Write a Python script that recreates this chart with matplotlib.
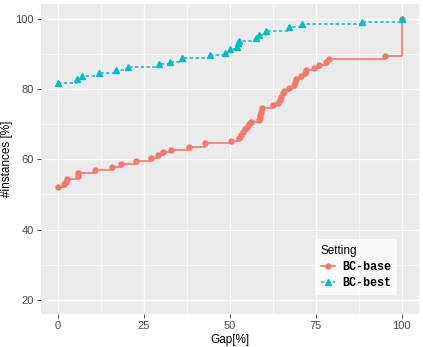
import matplotlib
matplotlib.use("Agg")
import matplotlib.pyplot as plt
from matplotlib.lines import Line2D

plt.rcParams["font.family"] = ["Liberation Sans", "DejaVu Sans"]

# données
base_gap = [0, 1.75, 2.2, 2.6, 5.7, 5.8, 10.8, 15.7, 18.4, 22.5, 27.0, 29.1, 30.4,
            32.8, 38.0, 42.7, 50.3, 52.6, 53.2, 53.8, 54.4, 55.0, 55.5, 56.1, 58.5,
            58.6, 58.7, 58.9, 59.3, 62.5, 63.9, 64.5, 64.9, 65.3, 65.7, 67.3, 68.6,
            68.8, 69.2, 70.6, 71.8, 72.2, 74.3, 75.9, 77.9, 78.8, 95.1, 100]
base_inst = [52.0, 52.9, 53.6, 54.5, 55.3, 56.2, 56.9, 57.9, 58.7, 59.5, 60.4, 61.1,
             62.0, 62.8, 63.6, 64.6, 65.3, 66.0, 66.9, 67.9, 68.6, 69.3, 70.0, 70.5,
             71.2, 71.9, 72.7, 73.6, 74.5, 75.4, 76.1, 76.9, 77.8, 78.8, 79.5, 80.4,
             81.2, 82.1, 82.9, 83.7, 84.5, 85.3, 86.1, 86.9, 87.6, 88.5, 89.4, 100]

best_gap = [0, 5.5, 6.8, 11.9, 16.8, 20.2, 29.4, 32.5, 35.9, 44.1, 48.5, 50.1, 52.1,
            52.4, 52.7, 57.5, 58.5, 60.4, 67.2, 71.0, 88.5, 100]
best_inst = [81.8, 82.9, 83.7, 84.7, 85.4, 86.2, 87.1, 87.7, 88.7, 89.7, 90.4, 91.3,
             91.9, 93.0, 93.6, 94.5, 95.4, 96.6, 97.6, 98.4, 99.0, 100]

x_ticks = [0, 25, 50, 75, 100]
y_ticks = [20, 40, 60, 80, 100]

red = "#F8766D"
blue = "#00BFC4"

fig = plt.figure(figsize=(4.23, 3.47), dpi=100)
ax = fig.add_axes([41 / 423, 33 / 347, 378 / 423, 310 / 347])
ax.set_facecolor("#EBEBEB")

# grille façon ggplot
for v in [12.5, 37.5, 62.5, 87.5]:
    ax.axvline(v, color="white", lw=0.5, zorder=0)
for v in [30, 50, 70, 90]:
    ax.axhline(v, color="white", lw=0.5, zorder=0)
for v in x_ticks:
    ax.axvline(v, color="white", lw=1.0, zorder=0)
for v in y_ticks:
    ax.axhline(v, color="white", lw=1.0, zorder=0)

ax.plot(base_gap, base_inst, drawstyle="steps-post", color=red, lw=1.2,
        marker="o", ms=3.6, zorder=3)
ax.plot(best_gap, best_inst, drawstyle="steps-post", color=blue, lw=1.1,
        dashes=(2.2, 1.6), marker="^", ms=4.2, zorder=4)

ax.set_xlim(-5, 105)
ax.set_ylim(16, 104.2)
ax.set_xticks(x_ticks)
ax.set_yticks(y_ticks)
for s in ax.spines.values():
    s.set_visible(False)
ax.tick_params(length=3, width=0.6, color="#333333", labelsize=8,
               labelcolor="#4D4D4D", pad=2)

ax.set_xlabel("Gap[%]", fontsize=8.5, labelpad=2)
ax.set_ylabel("#instances [%]", fontsize=8.5, labelpad=2)

handles = [
    Line2D([], [], color=red, lw=1.2, marker="o", ms=3.6),
    Line2D([], [], color=blue, lw=1.1, dashes=(2.2, 1.6), marker="^", ms=4.2),
]
leg = ax.legend(handles, ["BC-base", "BC-best"], title="Setting",
                loc="lower right", bbox_to_anchor=(0.942, 0.061), borderaxespad=0,
                frameon=True, fancybox=False, handlelength=1.2, handletextpad=0.6,
                prop={"family": "Liberation Mono", "weight": "bold", "size": 8.5},
                title_fontsize=8.5, borderpad=0.5, labelspacing=0.35)
leg.get_frame().set_edgecolor("white")
leg.get_frame().set_linewidth(0)
leg._legend_box.align = "left"

plt.savefig("out.png", dpi=100)
